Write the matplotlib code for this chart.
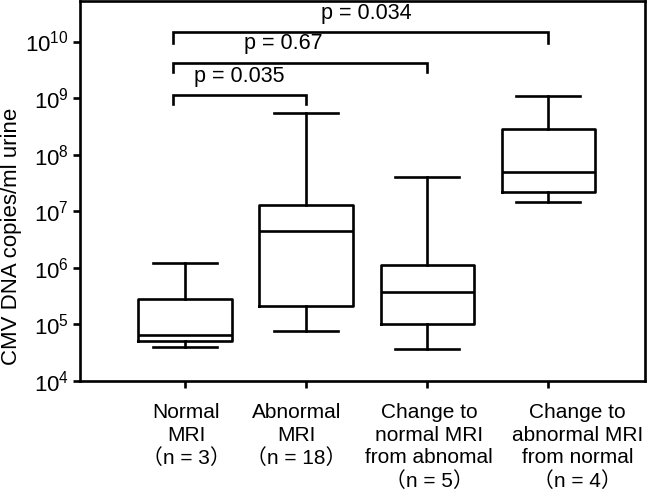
import matplotlib
matplotlib.use("Agg")
import matplotlib.pyplot as plt

plt.rcParams['font.family'] = ['Liberation Sans', 'Noto Sans CJK JP', 'DejaVu Sans']
plt.rcParams['mathtext.default'] = 'regular'

categories = ["Normal\nMRI\n（n = 3）",
              "Abnormal\nMRI\n（n = 18）",
              "Change to\nnormal MRI\nfrom abnomal\n（n = 5）",
              "Change to\nabnormal MRI\nfrom normal\n（n = 4）"]
whislo = [4.0e4, 7.7e4, 3.7e4, 1.45e7]
q1 = [5.1e4, 2.1e5, 1.03e5, 2.2e7]
med = [6.5e4, 4.5e6, 3.8e5, 4.9e7]
q3 = [2.8e5, 1.3e7, 1.12e6, 2.8e8]
whishi = [1.2e6, 5.4e8, 4.1e7, 1.07e9]

ytick_vals = [1e4, 1e5, 1e6, 1e7, 1e8, 1e9, 1e10]
ytick_labels = ["$10^{4}$", "$10^{5}$", "$10^{6}$", "$10^{7}$", "$10^{8}$", "$10^{9}$", "$10^{10}$"]

comparisons = [(1, 2, "p = 0.035"), (1, 3, "p = 0.67"), (1, 4, "p = 0.034")]
bracket_y = [1.15e9, 4.2e9, 1.45e10]
bracket_drop = [7.9e8, 2.85e9, 9.6e9]
text_y = [1.6e9, 6.0e9, 2.05e10]
text_x = [1.45, 1.81, 2.5]

# horizontal offset (points) of each category label from its tick
label_dx = [1, -7, 1.5, 21]

fig = plt.figure(figsize=(6.53, 4.9), dpi=100)
ax = fig.add_axes([80/653, 109/490, 565/653, 380/490])

stats = []
for i in range(len(categories)):
    stats.append(dict(whislo=whislo[i], q1=q1[i], med=med[i], q3=q3[i],
                      whishi=whishi[i], fliers=[]))
lw = 1.9
positions = [1, 2, 3, 4]
ax.bxp(stats, positions=positions, widths=0.77, capwidths=0.53,
       showfliers=False, patch_artist=False,
       boxprops=dict(color='black', linewidth=lw),
       medianprops=dict(color='black', linewidth=lw, solid_capstyle='butt'),
       whiskerprops=dict(color='black', linewidth=lw),
       capprops=dict(color='black', linewidth=lw))

ax.set_yscale('log')
ax.set_ylim(1e4, 5.2e10)
ax.set_xlim(0.132, 4.80)
ax.set_yticks(ytick_vals)
ax.set_yticklabels(ytick_labels, fontsize=16)
ax.yaxis.set_minor_locator(matplotlib.ticker.NullLocator())
ax.set_xticks(positions)
ax.set_xticklabels([])
ax.tick_params(axis='both', direction='out', length=5, width=lw, color='black')
ax.tick_params(axis='y', pad=3)
for s in ax.spines.values():
    s.set_linewidth(lw)

for pos, lab, dx in zip(positions, categories, label_dx):
    ax.annotate(lab, xy=(pos, 0), xycoords=('data', 'axes fraction'),
                xytext=(dx, -16), textcoords='offset points',
                ha='center', va='top', fontsize=15, linespacing=1.23,
                annotation_clip=False)

ax.set_ylabel("CMV DNA copies/ml urine", fontsize=16, va='center')
ax.yaxis.set_label_coords(-0.122, 0.38)

for (a, b, txt), by, bd, ty, tx in zip(comparisons, bracket_y, bracket_drop, text_y, text_x):
    xa = a - 0.1
    ax.plot([xa, xa, b, b], [bd, by, by, bd], color='black', linewidth=lw,
            solid_joinstyle='miter')
    ax.text(tx, ty, txt, ha='center', va='bottom', fontsize=15.5)

fig.savefig("out.png", dpi=100)
